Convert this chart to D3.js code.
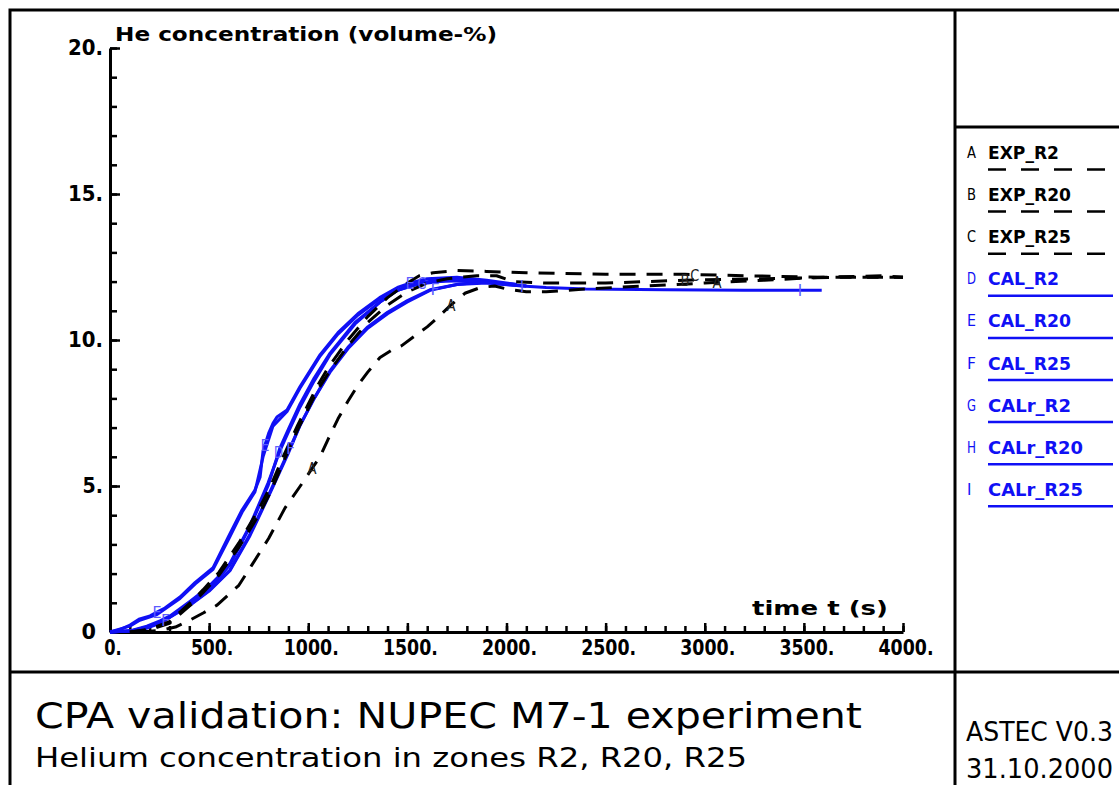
<!DOCTYPE html>
<html>
<head>
<meta charset="UTF-8">
<title>NUPEC M7-1 helium concentration</title>
<script src="https://d3js.org/d3.v7.min.js"></script>
<style>
  body { margin: 0; background: #fff; }
  svg { display: block; }
  text { font-family: "DejaVu Sans", sans-serif; }
</style>
</head>
<body>
<div id="chart"></div>
<script>
// --- data: [time (s), He concentration (vol-%)]
const expR2 = [[150,0],[250,0.05],[330,0.17],[404,0.41],[470,0.65],[540,0.92],[650,1.6],[716,2.3],[800,3.2],[883,4.25],[960,5.0],[1019,5.6],[1059,6.0],[1100,6.6],[1150,7.3],[1200,7.9],[1250,8.45],[1300,8.9],[1362,9.4],[1420,9.65],[1470,9.8],[1530,10.1],[1600,10.45],[1650,10.75],[1720,11.2],[1790,11.6],[1870,11.8],[1940,11.85],[2000,11.75],[2100,11.65],[2200,11.65],[2400,11.75],[2700,11.85],[3000,11.95],[3300,12.05],[3600,12.15],[3900,12.2],[4000,12.15]];
const expR20 = [[100,0],[200,0.08],[300,0.3],[420,1.0],[470,1.35],[550,1.95],[650,2.9],[750,4.0],[807,4.75],[873,5.8],[948,6.95],[1000,7.65],[1044,8.25],[1100,8.85],[1200,9.8],[1300,10.6],[1400,11.2],[1500,11.65],[1600,11.95],[1700,12.1],[1850,12.2],[1950,12.2],[2033,12.0],[2200,11.95],[2500,11.95],[2900,12.05],[3300,12.1],[3700,12.15],[4000,12.15]];
const expR25 = [[100,0],[200,0.1],[300,0.35],[420,1.1],[470,1.45],[550,2.05],[650,3.05],[750,4.2],[807,4.95],[873,6.0],[948,7.1],[1000,7.8],[1044,8.4],[1100,9.05],[1200,10.0],[1300,10.8],[1400,11.45],[1500,11.95],[1560,12.2],[1630,12.3],[1750,12.38],[1900,12.35],[2100,12.3],[2500,12.25],[2900,12.25],[3200,12.2],[3600,12.15],[4000,12.15]];
const calR2 = [[0,0],[100,0.03],[186,0.17],[252,0.34],[303,0.51],[403,1.0],[489,1.44],[555,1.9],[605,2.3],[706,3.6],[797,5.0],[857,6.3],[900,6.95],[958,7.8],[1030,8.7],[1110,9.55],[1236,10.6],[1362,11.3],[1450,11.7],[1538,11.9],[1665,12.0],[1800,12.05],[1950,11.95],[2050,11.9]];
const calR20 = [[0,0],[50,0.08],[101,0.24],[150,0.45],[202,0.55],[237,0.68],[277,0.82],[353,1.2],[430,1.7],[520,2.2],[600,3.3],[666,4.18],[731,4.86],[757,5.3],[772,6.2],[800,6.8],[822,7.15],[842,7.36],[893,7.6],[958,8.4],[1060,9.5],[1150,10.25],[1250,10.9],[1360,11.45],[1450,11.8],[1513,11.95],[1600,12.1],[1750,12.15],[1900,12.05],[2050,11.9]];
const calR25 = [[0,0],[150,0.05],[252,0.3],[400,0.9],[500,1.4],[605,2.1],[706,3.3],[797,4.6],[898,6.1],[960,7.1],[1030,8.0],[1110,8.9],[1200,9.7],[1300,10.4],[1400,10.9],[1500,11.3],[1614,11.7],[1750,11.9],[1900,12.0],[2050,11.9]];
const calrR2 = [[0,0],[100,0.04],[186,0.2],[252,0.38],[303,0.55],[403,1.05],[489,1.5],[555,1.95],[605,2.35],[706,3.65],[797,5.1],[857,6.2],[900,6.85],[958,7.7],[1030,8.6],[1110,9.5],[1236,10.55],[1362,11.3],[1450,11.7],[1574,11.95],[1700,12.05],[1850,12.0],[2000,11.9],[2100,11.85]];
const calrR20 = [[0,0],[100,0.2],[150,0.4],[237,0.6],[353,1.15],[430,1.65],[520,2.15],[600,3.2],[666,4.1],[731,4.8],[772,6.0],[822,7.05],[893,7.55],[958,8.35],[1060,9.45],[1150,10.2],[1250,10.85],[1360,11.4],[1513,11.9],[1650,12.05],[1850,12.0],[2100,11.85]];
const calrR25 = [[0,0],[150,0.06],[252,0.32],[400,0.92],[500,1.42],[605,2.12],[706,3.35],[797,4.65],[898,6.15],[960,7.1],[1030,8.0],[1110,8.95],[1200,9.75],[1300,10.45],[1400,10.95],[1500,11.35],[1614,11.72],[1750,11.9],[1900,11.95],[2078,11.85],[2200,11.8],[2400,11.75],[2800,11.72],[3200,11.7],[3590,11.7]];

const seriesNames = ["EXP_R2","EXP_R20","EXP_R25","CAL_R2","CAL_R20","CAL_R25","CALr_R2","CALr_R20","CALr_R25"];
const seriesKeys = ["A","B","C","D","E","F","G","H","I"];
const seriesData = [expR2, expR20, expR25, calR2, calR20, calR25, calrR2, calrR20, calrR25];

// letter markers along curves: [series index, time]
const markers = [[4,237],[4,782],[4,1513],[5,280],[5,910],[5,1640],[3,850],[6,1574],[8,2078],[8,3480],[0,1019],[0,1720],[0,3062],[1,2900],[2,2950]];

const xMajor = [0,500,1000,1500,2000,2500,3000,3500,4000];
const xLabels = ["0.","500.","1000.","1500.","2000.","2500.","3000.","3500.","4000."];
const yMajor = [0,5,10,15,20];
const yLabels = ["0","5.","10.","15.","20."];

const W = 1119, H = 785;
const svg = d3.select("#chart").append("svg").attr("width", W).attr("height", H);
svg.append("rect").attr("width", W).attr("height", H).attr("fill", "#fff");

const x = d3.scaleLinear().domain([0, 4000]).range([110, 903]);
const y = d3.scaleLinear().domain([0, 20]).range([632, 48]);

const blue = "#1010f5";
const isExp = i => i < 3;
// narrow "I" glyph is left at its natural width
const letterLen = k => k === "I" ? null : 9;

// frame
const frame = svg.append("g").attr("stroke", "#000").attr("stroke-width", 3).attr("fill", "none");
frame.append("rect").attr("x", 10).attr("y", 10).attr("width", W + 20).attr("height", H + 20);
frame.append("line").attr("x1", 10).attr("x2", W).attr("y1", 672).attr("y2", 672);
frame.append("line").attr("x1", 955).attr("x2", 955).attr("y1", 10).attr("y2", H);
frame.append("line").attr("x1", 955).attr("x2", W).attr("y1", 127).attr("y2", 127);

// axes
svg.append("g").attr("transform", "translate(0,632)")
  .call(d3.axisBottom(x).tickValues(d3.range(0, 4001, 100)).tickSize(-6).tickFormat("").tickSizeOuter(0))
  .call(g => g.selectAll("line").attr("stroke-width", 2.5))
  .call(g => g.select(".domain").attr("stroke-width", 3));
svg.append("g").attr("transform", "translate(0,632)")
  .call(d3.axisBottom(x).tickValues(xMajor).tickSize(-9).tickFormat("").tickSizeOuter(0))
  .call(g => g.selectAll("line").attr("stroke-width", 2.5))
  .call(g => g.select(".domain").remove());
svg.append("g").attr("transform", "translate(110,0)")
  .call(d3.axisLeft(y).tickValues(d3.range(0, 21, 1)).tickSize(-7).tickFormat("").tickSizeOuter(0))
  .call(g => g.selectAll("line").attr("stroke-width", 2.5))
  .call(g => g.select(".domain").attr("stroke-width", 3));
svg.append("g").attr("transform", "translate(110,0)")
  .call(d3.axisLeft(y).tickValues(yMajor).tickSize(-10).tickFormat("").tickSizeOuter(0))
  .call(g => g.selectAll("line").attr("stroke-width", 2.5))
  .call(g => g.select(".domain").remove());

// tick labels
const labW = (s, dw) => s.replace(/\./g, "").length * dw + (s.includes(".") ? 6 : 0);
svg.append("g").selectAll("text").data(xMajor).join("text")
  .attr("x", d => x(d) + 3).attr("y", 655)
  .attr("text-anchor", "middle").attr("font-size", 21).attr("font-weight", "bold")
  .attr("textLength", (d, i) => labW(xLabels[i], 12.5) - 1).attr("lengthAdjust", "spacingAndGlyphs")
  .text((d, i) => xLabels[i]);
svg.append("g").selectAll("text").data(yMajor).join("text")
  .attr("x", d => d === 0 ? 96 : 103).attr("y", d => y(d) + 7)
  .attr("text-anchor", "end").attr("font-size", 21).attr("font-weight", "bold")
  .attr("textLength", (d, i) => labW(yLabels[i], 14.5)).attr("lengthAdjust", "spacingAndGlyphs")
  .text((d, i) => yLabels[i]);

// axis titles
svg.append("text").attr("x", 115).attr("y", 41).attr("font-size", 20).attr("font-weight", "bold")
  .attr("textLength", 382).attr("lengthAdjust", "spacingAndGlyphs").text("He concentration (volume-%)");
svg.append("text").attr("x", 752).attr("y", 615).attr("font-size", 20).attr("font-weight", "bold")
  .attr("textLength", 136).attr("lengthAdjust", "spacingAndGlyphs").text("time t (s)");

// curves
const line = d3.line().x(d => x(d[0])).y(d => y(d[1]));
const draw = [3,4,5,6,7,8,0,1,2];
svg.append("g").selectAll("path").data(draw).join("path")
  .attr("d", i => line(seriesData[i]))
  .attr("fill", "none")
  .attr("stroke", i => isExp(i) ? "#000" : blue)
  .attr("stroke-width", 3)
  .attr("stroke-dasharray", i => isExp(i) ? "16,11" : null)
  .attr("stroke-linejoin", "round");

// markers
function valueAt(data, t) {
  const b = d3.bisector(d => d[0]).left(data, t);
  if (b <= 0) return data[0][1];
  if (b >= data.length) return data[data.length - 1][1];
  const a = data[b - 1], c = data[b];
  return a[1] + (c[1] - a[1]) * (t - a[0]) / (c[0] - a[0]);
}
svg.append("g").selectAll("text").data(markers).join("text")
  .attr("x", d => x(d[1])).attr("y", d => y(valueAt(seriesData[d[0]], d[1])) + 6)
  .attr("text-anchor", "middle").attr("font-size", 15)
  .attr("fill", d => isExp(d[0]) ? "#222" : "#5c5cff")
  .attr("textLength", d => letterLen(seriesKeys[d[0]])).attr("lengthAdjust", "spacingAndGlyphs")
  .text(d => seriesKeys[d[0]]);

// legend
const leg = svg.append("g").selectAll("g").data(seriesNames).join("g")
  .attr("transform", (d, i) => `translate(0,${152 + i * 42.1})`);
leg.append("text").attr("x", 967).attr("y", 6).attr("font-size", 15)
  .attr("fill", (d, i) => isExp(i) ? "#000" : blue)
  .attr("textLength", (d, i) => letterLen(seriesKeys[i])).attr("lengthAdjust", "spacingAndGlyphs")
  .text((d, i) => seriesKeys[i]);
leg.append("text").attr("x", 988).attr("y", 7).attr("font-size", 18).attr("font-weight", "bold")
  .attr("fill", (d, i) => isExp(i) ? "#000" : blue)
  .attr("textLength", d => d.length * 12 - 1).attr("lengthAdjust", "spacingAndGlyphs")
  .text(d => d);
leg.append("line").attr("x1", 988).attr("x2", 1113).attr("y1", 17.5).attr("y2", 17.5)
  .attr("stroke", (d, i) => isExp(i) ? "#000" : blue).attr("stroke-width", 2.5)
  .attr("stroke-dasharray", (d, i) => isExp(i) ? "18,15" : null);

// titles
svg.append("text").attr("x", 35).attr("y", 728).attr("font-size", 36)
  .attr("textLength", 827).attr("lengthAdjust", "spacingAndGlyphs").text("CPA validation: NUPEC M7-1 experiment");
svg.append("text").attr("x", 35).attr("y", 767).attr("font-size", 26)
  .attr("textLength", 712).attr("lengthAdjust", "spacingAndGlyphs").text("Helium concentration in zones R2, R20, R25");
svg.append("text").attr("x", 966).attr("y", 741).attr("font-size", 26)
  .attr("textLength", 147).attr("lengthAdjust", "spacingAndGlyphs").text("ASTEC V0.3");
svg.append("text").attr("x", 966).attr("y", 778).attr("font-size", 26)
  .attr("textLength", 147).attr("lengthAdjust", "spacingAndGlyphs").text("31.10.2000");
</script>
</body>
</html>
